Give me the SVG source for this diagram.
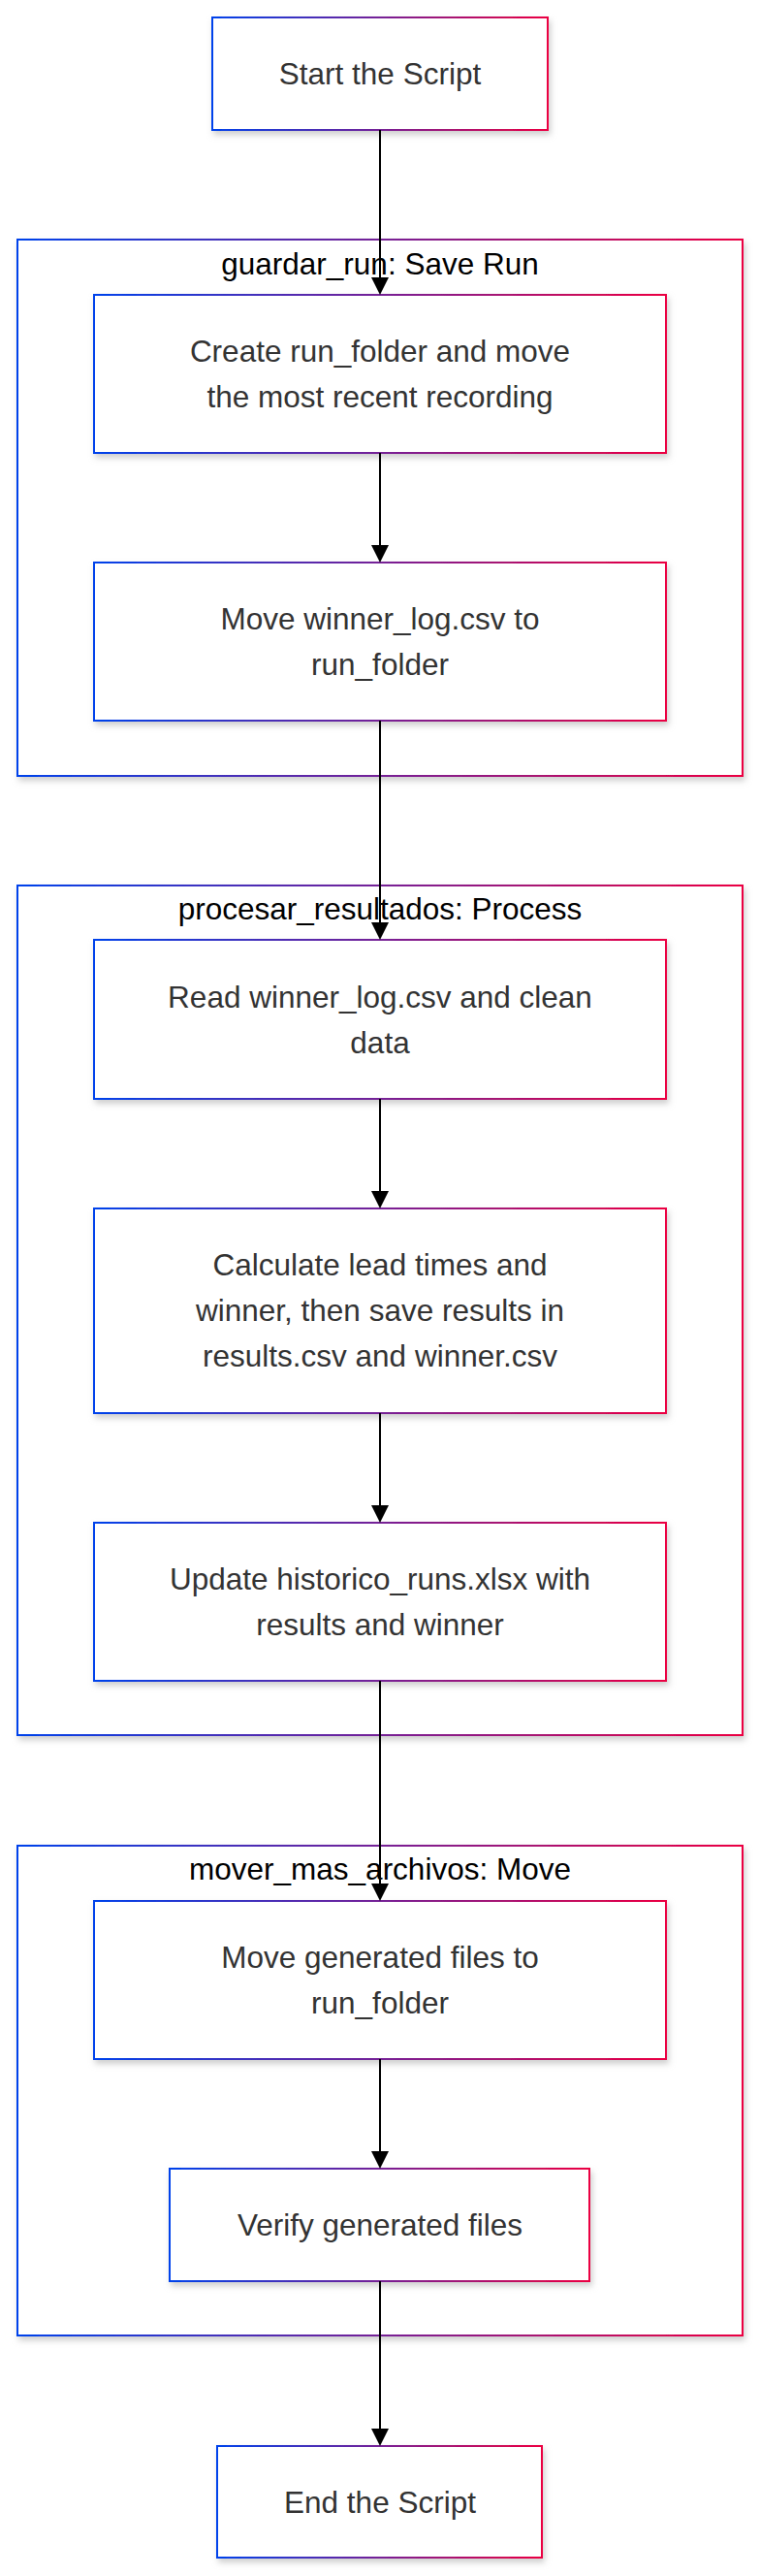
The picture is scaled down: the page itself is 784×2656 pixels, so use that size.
<svg xmlns="http://www.w3.org/2000/svg" width="784" height="2656" viewBox="0 0 784 2656">
<style>
.bg{fill:#ffffff}
.node rect,.cluster rect{fill:#ffffff;stroke:url(#grad);stroke-width:2;filter:url(#shadow)}
.nt{font-family:"Liberation Sans",Arial,sans-serif;font-size:31.5px;fill:#333333;text-anchor:middle}
.ct{font-family:"Liberation Sans",Arial,sans-serif;font-size:31.5px;fill:#000000;text-anchor:middle}
.edge{stroke:#000000;stroke-width:2;fill:none}
</style>
<defs>
<linearGradient id="grad" x1="0" y1="0" x2="1" y2="0">
<stop offset="0" stop-color="#0042eb"/>
<stop offset="1" stop-color="#eb0042"/>
</linearGradient>
<filter id="shadow" x="-10%" y="-10%" width="130%" height="130%">
<feDropShadow dx="2" dy="4" stdDeviation="3" flood-color="#b9b9b9" flood-opacity="0.7"/>
</filter>
<marker id="arrow" viewBox="0 0 18 18" refX="0" refY="9" markerWidth="18" markerHeight="18" markerUnits="userSpaceOnUse" orient="auto">
<path d="M0,0 L18,9 L0,18 z" fill="#000000"/>
</marker>
</defs>
<rect class="bg" x="0" y="0" width="784" height="2656"/>

<g id="cluster-guardar_run" class="cluster">
<rect x="18" y="247" width="748" height="553"/>
<text class="ct" x="392" y="283">guardar_run: Save Run</text>
</g>
<g id="cluster-procesar_resultados" class="cluster">
<rect x="18" y="913" width="748" height="876"/>
<text class="ct" x="392" y="948">procesar_resultados: Process</text>
</g>
<g id="cluster-mover_mas_archivos" class="cluster">
<rect x="18" y="1903" width="748" height="505"/>
<text class="ct" x="392" y="1938">mover_mas_archivos: Move</text>
</g>

<g id="node-start" class="node">
<rect x="219" y="18" width="346" height="116"/>
<text class="nt" x="392" y="87">Start the Script</text>
</g>
<g id="node-create" class="node">
<rect x="97" y="304" width="590" height="163"/>
<text class="nt" x="392" y="373">Create run_folder and move</text>
<text class="nt" x="392" y="420">the most recent recording</text>
</g>
<g id="node-move-log" class="node">
<rect x="97" y="580" width="590" height="163"/>
<text class="nt" x="392" y="649">Move winner_log.csv to</text>
<text class="nt" x="392" y="696">run_folder</text>
</g>
<g id="node-read" class="node">
<rect x="97" y="969" width="590" height="164"/>
<text class="nt" x="392" y="1039">Read winner_log.csv and clean</text>
<text class="nt" x="392" y="1086">data</text>
</g>
<g id="node-calc" class="node">
<rect x="97" y="1246" width="590" height="211"/>
<text class="nt" x="392" y="1315">Calculate lead times and</text>
<text class="nt" x="392" y="1362">winner, then save results in</text>
<text class="nt" x="392" y="1409">results.csv and winner.csv</text>
</g>
<g id="node-update" class="node">
<rect x="97" y="1570" width="590" height="163"/>
<text class="nt" x="392" y="1639">Update historico_runs.xlsx with</text>
<text class="nt" x="392" y="1686">results and winner</text>
</g>
<g id="node-move-gen" class="node">
<rect x="97" y="1960" width="590" height="163"/>
<text class="nt" x="392" y="2029">Move generated files to</text>
<text class="nt" x="392" y="2076">run_folder</text>
</g>
<g id="node-verify" class="node">
<rect x="175" y="2236" width="433" height="116"/>
<text class="nt" x="392" y="2305">Verify generated files</text>
</g>
<g id="node-end" class="node">
<rect x="224" y="2522" width="335" height="115"/>
<text class="nt" x="392" y="2591">End the Script</text>
</g>

<g id="connectors">
<path class="edge" d="M392,134 L392,286" marker-end="url(#arrow)"/>
<path class="edge" d="M392,467 L392,562" marker-end="url(#arrow)"/>
<path class="edge" d="M392,743 L392,951" marker-end="url(#arrow)"/>
<path class="edge" d="M392,1133 L392,1228" marker-end="url(#arrow)"/>
<path class="edge" d="M392,1457 L392,1552" marker-end="url(#arrow)"/>
<path class="edge" d="M392,1733 L392,1942" marker-end="url(#arrow)"/>
<path class="edge" d="M392,2123 L392,2218" marker-end="url(#arrow)"/>
<path class="edge" d="M392,2352 L392,2504" marker-end="url(#arrow)"/>
</g>
</svg>
